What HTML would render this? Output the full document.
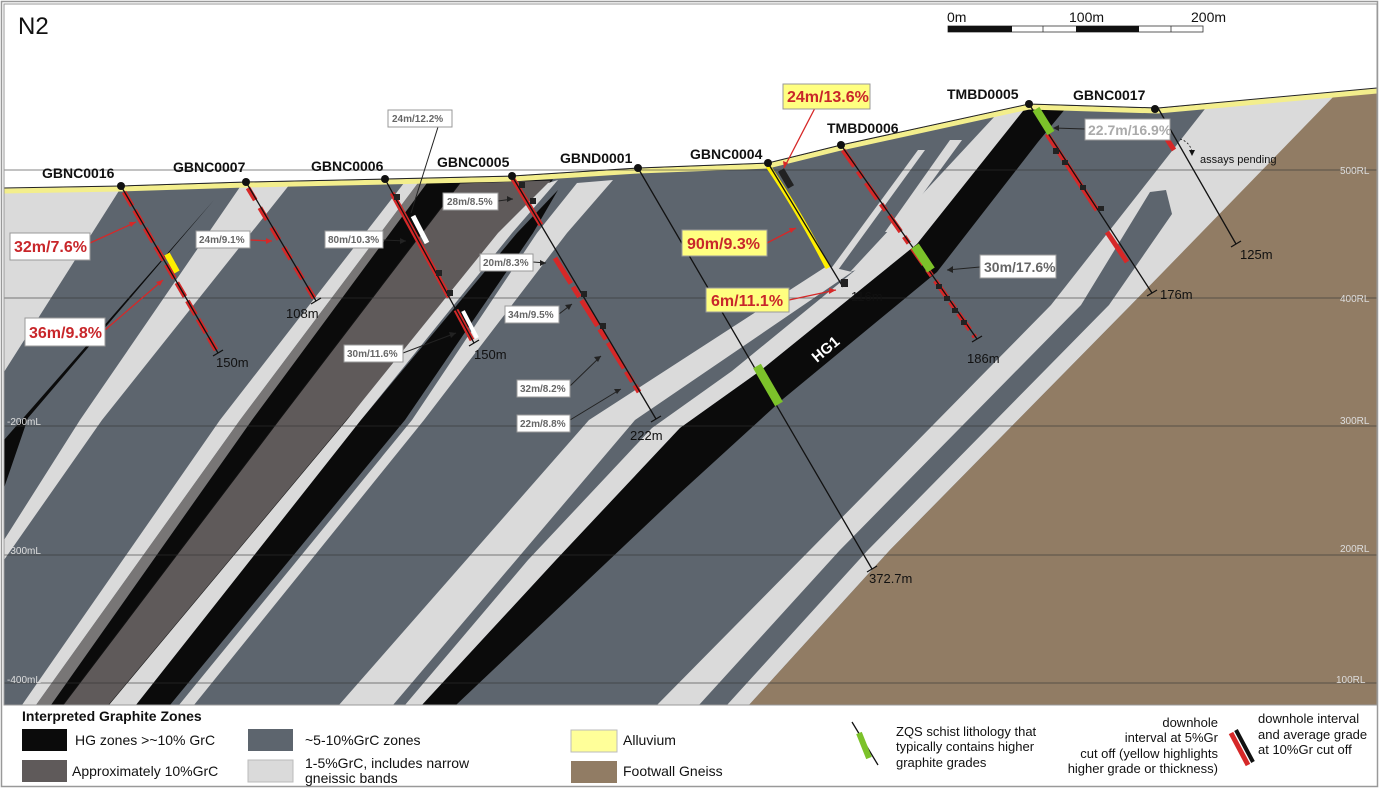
<!DOCTYPE html>
<html><head><meta charset="utf-8"><style>
html,body{margin:0;padding:0;background:#fff;}
svg{display:block;font-family:"Liberation Sans",Arial,sans-serif;}
</style></head><body>
<svg width="1380" height="788" viewBox="0 0 1380 788" xmlns="http://www.w3.org/2000/svg">
<rect x="0" y="0" width="1380" height="788" fill="#fff"/>
<rect x="4" y="80" width="1373" height="625" fill="#5d656e"/>
<polygon points="4,190 122,186 4,372" fill="#dadada"/>
<polygon points="242,184 290,184 102,420 4,560 4,540 80,420" fill="#dadada"/>
<polygon points="214,200 28,418 4,488 4,440" fill="#0b0b0b"/>
<polygon points="404,183 418,183 240,420 36,705 22,705 220,420" fill="#dadada"/>
<polygon points="418,183 429,183 252,420 51,705 36,705 240,420" fill="#787676"/>
<polygon points="427,183 462,183 279,420 63,705 51,705 252,420" fill="#0b0b0b"/>
<polygon points="460,183 552,180 347,420 109,705 63,705 279,420" fill="#5f5a5a" stroke="#111" stroke-width="1"/>
<polygon points="548,183 558,180 512,233 361,420 136,705 109,705 347,420 498,233" fill="#dadada"/>
<polygon points="558,190 533,233 405,420 170,705 136,705 361,420 517,233" fill="#0b0b0b"/>
<polygon points="577,183 613,180 567,233 424,420 194,705 179,705 412,420 537,233" fill="#dadada"/>
<!-- big light band -->
<polygon points="827,266 852,272 635,420 393,705 339,705 589,420" fill="#dadada"/>
<polygon points="918,150 925,150 838,270 830,270" fill="#dadada"/>
<polygon points="950,140 962,140 895,232 885,232" fill="#dadada"/>
<!-- light band B along HG1 -->
<polygon points="1000,116 1024,108 917,244 760,371 680,428 556,560 422,705 405,705 528,560 652,428 732,371 880,250 852,272 880,250" fill="#dadada"/>
<polygon points="995,116 1026,108 917,244 880,262 850,272" fill="#dadada"/>
<!-- HG1 -->
<polygon points="1027,106 1066,108 1038,142 937,272 783,399 680,493 456,705 422,705 556,560 680,428 760,371 917,244" fill="#0b0b0b"/>
<!-- light D near footwall -->
<polygon points="1212,100 1340,92 1131,305 890,550 749,705 657,705 810,550 1051,305" fill="#dadada"/>
<polygon points="1150,192 1166,190 1172,214 1109,305 868,550 727,705 699,705 840,550 1081,305" fill="#5d656e"/>
<polygon points="1338,92 1377,88 1377,705 749,705 890,550 1131,305" fill="#917c64"/>
<!-- sky -->
<polygon points="0,0 1380,0 1380,88 1375,90 1158,108 1029,104 841,145 768,163 638,168 512,176 385,179 246,182 121,186 4,189 0,189" fill="#fff"/>
<polyline points="4,191 121,189 246,185 385,182 512,179 638,171 768,166 841,148 1029,107 1158,111 1377,91" fill="none" stroke="#f3ee8c" stroke-width="5"/>
<polyline points="4,188 121,186 246,182 385,179 512,176 638,168 768,163 841,145 1029,104 1158,108 1377,88" fill="none" stroke="#222" stroke-width="1"/>
<g stroke="#333" stroke-width="0.8" opacity="0.8">
<line x1="4" y1="170" x2="1377" y2="170"/><line x1="4" y1="298" x2="1377" y2="298"/>
<line x1="4" y1="426" x2="1377" y2="426"/><line x1="4" y1="555" x2="1377" y2="555"/>
<line x1="4" y1="683" x2="1377" y2="683"/>
</g>
<g fill="#ddd" font-size="10">
<text x="1340" y="174">500RL</text><text x="1340" y="302">400RL</text><text x="1340" y="424">300RL</text>
<text x="1340" y="552">200RL</text><text x="1336" y="683">100RL</text>
<text x="7" y="425">-200mL</text><text x="7" y="554">-300mL</text><text x="7" y="683">-400mL</text>
</g>
<rect x="1.5" y="1.5" width="1376" height="785" fill="none" stroke="#999" stroke-width="1.5"/>
<rect x="4" y="4" width="1373" height="701" fill="none" stroke="#999" stroke-width="1"/>

<g stroke-linecap="butt">
<line x1="124" y1="192" x2="216" y2="350" stroke="#d62828" stroke-width="5" stroke-dasharray="16 5"/>
<line x1="121" y1="186" x2="218" y2="353" stroke="#111" stroke-width="1.3"/>
<line x1="167" y1="254" x2="177" y2="272" stroke="#ffef00" stroke-width="6"/>
<line x1="213" y1="356" x2="223" y2="350" stroke="#111" stroke-width="1.3"/>
<line x1="248" y1="188" x2="314" y2="298" stroke="#d62828" stroke-width="5" stroke-dasharray="14 9"/>
<line x1="246" y1="182" x2="316" y2="301" stroke="#111" stroke-width="1.3"/>
<line x1="311" y1="304" x2="321" y2="298" stroke="#111" stroke-width="1.3"/>
<line x1="392" y1="193" x2="449" y2="297" stroke="#d62828" stroke-width="5"/>
<line x1="456" y1="310" x2="472" y2="340" stroke="#d62828" stroke-width="5"/>
<line x1="385" y1="179" x2="474" y2="343" stroke="#111" stroke-width="1.3"/>
<line x1="413" y1="216" x2="427" y2="243" stroke="#fff" stroke-width="5"/>
<line x1="463" y1="311" x2="477" y2="338" stroke="#fff" stroke-width="4"/>
<rect x="394" y="194" width="6" height="6" fill="#222"/><rect x="436" y="270" width="6" height="6" fill="#222"/><rect x="447" y="290" width="6" height="6" fill="#222"/>
<line x1="469" y1="346" x2="479" y2="340" stroke="#111" stroke-width="1.3"/>
<line x1="513" y1="179" x2="541" y2="225" stroke="#d62828" stroke-width="5"/>
<line x1="555" y1="258" x2="639" y2="392" stroke="#d62828" stroke-width="5" stroke-dasharray="30 4 12 4"/>
<line x1="512" y1="176" x2="656" y2="419" stroke="#111" stroke-width="1.3"/>
<rect x="519" y="182" width="6" height="6" fill="#222"/><rect x="530" y="198" width="6" height="6" fill="#222"/>
<rect x="581" y="291" width="6" height="6" fill="#222"/><rect x="600" y="323" width="6" height="6" fill="#222"/>
<line x1="651" y1="422" x2="661" y2="416" stroke="#111" stroke-width="1.3"/>
<line x1="638" y1="168" x2="872" y2="569" stroke="#111" stroke-width="1.3"/>
<line x1="757" y1="366" x2="779" y2="404" stroke="#7cc22a" stroke-width="9"/>
<line x1="867" y1="572" x2="877" y2="566" stroke="#111" stroke-width="1.3"/>
<path d="M768,166 Q798,210 828,268" fill="none" stroke="#ffef00" stroke-width="5"/>
<line x1="768" y1="163" x2="843" y2="287" stroke="#111" stroke-width="1.3"/>
<line x1="781" y1="170" x2="791" y2="187" stroke="#222" stroke-width="7"/>
<rect x="841" y="279" width="7" height="8" fill="#222"/>
<line x1="843" y1="150" x2="975" y2="337" stroke="#d62828" stroke-width="5" stroke-dasharray="20 6 8 6"/>
<line x1="841" y1="145" x2="977" y2="339" stroke="#111" stroke-width="1.3"/>
<line x1="915" y1="246" x2="931" y2="270" stroke="#7cc22a" stroke-width="9"/>
<rect x="936" y="284" width="6" height="5" fill="#222"/><rect x="944" y="296" width="6" height="5" fill="#222"/>
<rect x="952" y="308" width="6" height="5" fill="#222"/><rect x="961" y="320" width="6" height="5" fill="#222"/>
<line x1="972" y1="342" x2="982" y2="336" stroke="#111" stroke-width="1.3"/>
<line x1="1047" y1="134" x2="1097" y2="210" stroke="#d62828" stroke-width="5"/>
<line x1="1107" y1="232" x2="1127" y2="262" stroke="#d62828" stroke-width="5"/>
<line x1="1029" y1="104" x2="1152" y2="293" stroke="#111" stroke-width="1.3"/>
<line x1="1036" y1="109" x2="1051" y2="133" stroke="#7cc22a" stroke-width="8"/>
<rect x="1053" y="148" width="6" height="6" fill="#222"/><rect x="1062" y="160" width="6" height="5" fill="#222"/>
<rect x="1080" y="185" width="6" height="5" fill="#222"/><rect x="1098" y="206" width="6" height="5" fill="#222"/>
<line x1="1147" y1="296" x2="1157" y2="290" stroke="#111" stroke-width="1.3"/>
<line x1="1165" y1="136" x2="1174" y2="150" stroke="#d62828" stroke-width="5"/>
<line x1="1158" y1="108" x2="1236" y2="244" stroke="#111" stroke-width="1.3"/>
<line x1="1231" y1="247" x2="1241" y2="241" stroke="#111" stroke-width="1.3"/>
</g>
<g fill="#111">
<circle cx="121" cy="186" r="4"/><circle cx="246" cy="182" r="4"/><circle cx="385" cy="179" r="4"/>
<circle cx="512" cy="176" r="4"/><circle cx="638" cy="168" r="4"/><circle cx="768" cy="163" r="4"/>
<circle cx="841" cy="145" r="4"/><circle cx="1029" cy="104" r="4"/><circle cx="1155" cy="109" r="4"/>
</g>
<g font-size="14" font-weight="bold" fill="#111">
<text x="42" y="178">GBNC0016</text><text x="173" y="172">GBNC0007</text><text x="311" y="171">GBNC0006</text>
<text x="437" y="167">GBNC0005</text><text x="560" y="163">GBND0001</text><text x="690" y="159">GBNC0004</text>
<text x="827" y="133">TMBD0006</text><text x="947" y="99">TMBD0005</text><text x="1073" y="100">GBNC0017</text>
</g>
<g font-size="13" fill="#111">
<text x="216" y="367">150m</text><text x="286" y="318">108m</text><text x="474" y="359">150m</text>
<text x="630" y="440">222m</text><text x="869" y="583">372.7m</text><text x="851" y="301">116m</text>
<text x="967" y="363">186m</text><text x="1160" y="299">176m</text><text x="1240" y="259">125m</text>
</g>
<text x="1200" y="163" font-size="11" fill="#111">assays pending</text>
<path d="M1180,139 Q1190,142 1192,152" fill="none" stroke="#111" stroke-width="0.8" stroke-dasharray="2 2"/>
<polygon points="1189,150 1195,150 1192,156" fill="#111"/>
<text x="0" y="0" font-size="15" font-weight="bold" fill="#fff" transform="translate(817,363) rotate(-40)">HG1</text>

<g stroke="#d62828" stroke-width="1.3" fill="none">
<line x1="90" y1="243" x2="136" y2="222"/><line x1="105" y1="330" x2="163" y2="280"/>
<line x1="250" y1="240" x2="272" y2="241"/>
<line x1="815" y1="108" x2="784" y2="168"/>
<line x1="767" y1="243" x2="796" y2="228"/><line x1="789" y1="300" x2="836" y2="290"/>
</g>
<g stroke="#222" stroke-width="1" fill="none">
<line x1="438" y1="127" x2="411" y2="213"/>
<line x1="383" y1="240" x2="406" y2="241"/><line x1="403" y1="353" x2="456" y2="333"/>
<line x1="498" y1="201" x2="513" y2="199"/><line x1="533" y1="262" x2="546" y2="263"/>
<line x1="559" y1="314" x2="572" y2="304"/><line x1="570" y1="386" x2="601" y2="356"/>
<line x1="570" y1="420" x2="621" y2="389"/>
<line x1="980" y1="267" x2="947" y2="270"/><line x1="1085" y1="129" x2="1054" y2="128"/>
</g>
<g fill="#222">
<polygon points="513,199 507,196 507,202"/><polygon points="546,263 540,260 540,266"/>
<polygon points="572,304 565,305 569,310"/><polygon points="601,356 594,357 598,362"/>
<polygon points="621,389 614,389 617,394"/><polygon points="947,270 953,266 953,273"/>
<polygon points="1053,128 1059,125 1059,131"/><polygon points="406,241 400,238 400,244"/>
<polygon points="456,333 449,332 451,338"/>
</g>
<g fill="#d62828">
<polygon points="136,222 129,222 131,227"/><polygon points="163,280 156,282 160,286"/>
<polygon points="272,241 266,238 266,244"/><polygon points="796,228 789,228 791,233"/>
<polygon points="836,290 829,288 829,294"/><polygon points="784,168 783,161 788,163"/>
</g>
<g>
<rect x="10" y="233" width="80" height="27" fill="#fff" stroke="#999"/><text x="14" y="252" font-size="16" font-weight="bold" fill="#c8262a">32m/7.6%</text>
<rect x="25" y="318" width="80" height="28" fill="#fff" stroke="#999"/><text x="29" y="338" font-size="16" font-weight="bold" fill="#c8262a">36m/9.8%</text>
<g font-size="10" font-weight="bold" fill="#666">
<rect x="196" y="231" width="54" height="17" fill="#fff" stroke="#999"/><text x="199" y="243">24m/9.1%</text>
<rect x="388" y="110" width="64" height="17" fill="#fff" stroke="#999"/><text x="392" y="122">24m/12.2%</text>
<rect x="325" y="231" width="58" height="17" fill="#fff" stroke="#999"/><text x="328" y="243">80m/10.3%</text>
<rect x="344" y="345" width="59" height="17" fill="#fff" stroke="#999"/><text x="347" y="357">30m/11.6%</text>
<rect x="443" y="193" width="55" height="17" fill="#fff" stroke="#999"/><text x="447" y="205">28m/8.5%</text>
<rect x="480" y="254" width="53" height="17" fill="#fff" stroke="#999"/><text x="483" y="266">20m/8.3%</text>
<rect x="505" y="306" width="54" height="17" fill="#fff" stroke="#999"/><text x="508" y="318">34m/9.5%</text>
<rect x="517" y="380" width="53" height="17" fill="#fff" stroke="#999"/><text x="520" y="392">32m/8.2%</text>
<rect x="517" y="415" width="53" height="17" fill="#fff" stroke="#999"/><text x="520" y="427">22m/8.8%</text>
</g>
<rect x="783" y="84" width="87" height="25" fill="#ffff80" stroke="#999"/><text x="787" y="102" font-size="16" font-weight="bold" fill="#c8262a">24m/13.6%</text>
<rect x="682" y="230" width="85" height="26" fill="#ffff80" stroke="#999"/><text x="687" y="249" font-size="16" font-weight="bold" fill="#c8262a">90m/9.3%</text>
<rect x="706" y="288" width="83" height="24" fill="#ffff80" stroke="#999"/><text x="711" y="306" font-size="16" font-weight="bold" fill="#c8262a">6m/11.1%</text>
<rect x="980" y="255" width="76" height="23" fill="#fff" stroke="#999"/><text x="984" y="272" font-size="14" font-weight="bold" fill="#666">30m/17.6%</text>
<rect x="1085" y="119" width="85" height="21" fill="#fff" stroke="#999"/><text x="1088" y="135" font-size="14" font-weight="bold" fill="#aaa">22.7m/16.9%</text>
</g>

<text x="18" y="34" font-size="24" fill="#111">N2</text>
<g font-size="14" fill="#111"><text x="947" y="22">0m</text><text x="1069" y="22">100m</text><text x="1191" y="22">200m</text></g>
<rect x="948" y="26" width="255" height="6" fill="#fff" stroke="#333" stroke-width="0.8"/>
<rect x="948" y="26" width="64" height="6" fill="#111"/><rect x="1076" y="26" width="63" height="6" fill="#111"/>
<line x1="1043" y1="26" x2="1043" y2="32" stroke="#333" stroke-width="0.8"/><line x1="1171" y1="26" x2="1171" y2="32" stroke="#333" stroke-width="0.8"/>

<text x="22" y="721" font-size="14" font-weight="bold" fill="#111">Interpreted Graphite Zones</text>
<g font-size="14" fill="#111">
<rect x="22" y="729" width="45" height="22" fill="#0b0b0b"/><text x="75" y="745">HG zones &gt;~10% GrC</text>
<rect x="22" y="760" width="45" height="22" fill="#5f5a5a"/><text x="72" y="776">Approximately 10%GrC</text>
<rect x="248" y="729" width="45" height="22" fill="#5d656e"/><text x="305" y="745">~5-10%GrC zones</text>
<rect x="248" y="760" width="45" height="22" fill="#dadada" stroke="#bbb"/><text x="305" y="768">1-5%GrC, includes narrow</text><text x="305" y="783">gneissic bands</text>
<rect x="571" y="730" width="46" height="22" fill="#ffff99" stroke="#bbb"/><text x="623" y="745">Alluvium</text>
<rect x="571" y="761" width="46" height="22" fill="#917c64"/><text x="623" y="776">Footwall Gneiss</text>
<text x="896" y="736" font-size="13">ZQS schist lithology that</text><text x="896" y="751" font-size="13">typically contains higher</text><text x="896" y="767" font-size="13">graphite grades</text>
<g font-size="13" text-anchor="end"><text x="1218" y="727">downhole</text><text x="1218" y="742">interval at 5%Gr</text><text x="1218" y="758">cut off (yellow highlights</text><text x="1218" y="773">higher grade or thickness)</text></g>
<text x="1258" y="723" font-size="13">downhole interval</text><text x="1258" y="739" font-size="13">and average grade</text><text x="1258" y="754" font-size="13">at 10%Gr cut off</text>
</g>
<line x1="852" y1="722" x2="878" y2="765" stroke="#111" stroke-width="1.3"/>
<line x1="859" y1="733" x2="869" y2="758" stroke="#7cc22a" stroke-width="6"/>
<line x1="1231" y1="733" x2="1248" y2="765" stroke="#d62828" stroke-width="5"/>
<line x1="1236" y1="730" x2="1253" y2="762" stroke="#111" stroke-width="4"/>
</svg>
</body></html>
